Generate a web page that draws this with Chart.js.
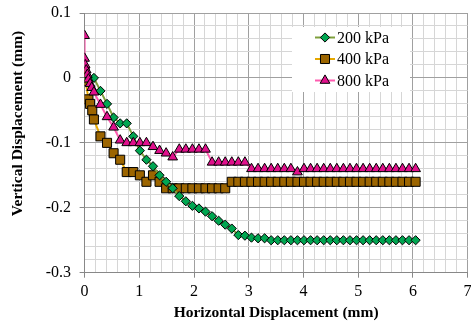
<!DOCTYPE html>
<html>
<head>
<meta charset="utf-8">
<script src="https://cdn.jsdelivr.net/npm/chart.js@4/dist/chart.umd.min.js"></script>
<style>
html,body{margin:0;padding:0;background:#fff;overflow:hidden;}
#wrap{width:471px;height:327px;position:relative;overflow:hidden;}
canvas{display:block;}
</style>
</head>
<body>
<div id="wrap"><canvas id="c" width="471" height="327"></canvas></div>
<script>
// ---- data ----
const seriesNames = ['200 kPa', '400 kPa', '800 kPa'];

const x200 = [0, 0.17, 0.29, 0.41, 0.53, 0.65, 0.77, 0.89, 1.01, 1.13, 1.25, 1.37, 1.49, 1.61, 1.73, 1.85, 1.97, 2.09, 2.21, 2.33, 2.45, 2.57, 2.69, 2.81, 2.93, 3.05, 3.17, 3.29,
  3.41, 3.53, 3.65, 3.77, 3.89, 4.01, 4.13, 4.25, 4.37, 4.49, 4.61, 4.73, 4.85, 4.97, 5.09, 5.21, 5.33, 5.45, 5.57, 5.69, 5.81, 5.93, 6.05];
const y200 = [0, 0, -0.02, -0.04, -0.061, -0.07, -0.07, -0.09, -0.112, -0.126, -0.136, -0.15, -0.16, -0.17, -0.182, -0.19, -0.197, -0.201, -0.206, -0.213, -0.22, -0.226, -0.232, -0.242, -0.243, -0.246, -0.247, -0.247,
  -0.25, -0.25, -0.25, -0.25, -0.25, -0.25, -0.25, -0.25, -0.25, -0.25, -0.25, -0.25, -0.25, -0.25, -0.25, -0.25, -0.25, -0.25, -0.25, -0.25, -0.25, -0.25, -0.25];

const x400 = [0, 0.02, 0.07, 0.1, 0.14, 0.17, 0.29, 0.41, 0.53, 0.65, 0.77, 0.89, 1.01, 1.13, 1.25, 1.37,
  1.49, 1.61, 1.73, 1.85, 1.97, 2.09, 2.21, 2.33, 2.45, 2.57,
  2.69, 2.81, 2.93, 3.05, 3.17, 3.29, 3.41, 3.53, 3.65, 3.77, 3.89, 4.01, 4.13, 4.25, 4.37, 4.49, 4.61, 4.73, 4.85, 4.97, 5.09, 5.21, 5.33, 5.45, 5.57, 5.69, 5.81, 5.93, 6.05];
const y400 = [0.01, -0.005, -0.033, -0.04, -0.05, -0.064, -0.09, -0.1, -0.116, -0.126, -0.145, -0.145, -0.15, -0.16, -0.15, -0.16,
  -0.17, -0.17, -0.17, -0.17, -0.17, -0.17, -0.17, -0.17, -0.17, -0.17,
  -0.16, -0.16, -0.16, -0.16, -0.16, -0.16, -0.16, -0.16, -0.16, -0.16, -0.16, -0.16, -0.16, -0.16, -0.16, -0.16, -0.16, -0.16, -0.16, -0.16, -0.16, -0.16, -0.16, -0.16, -0.16, -0.16, -0.16, -0.16, -0.16];

const x800 = [0, 0, 0.01, 0.03, 0.05, 0.07, 0.1, 0.13, 0.17, 0.29, 0.41, 0.53, 0.65, 0.77, 0.89, 1.01, 1.13, 1.25, 1.37, 1.49, 1.61,
  1.73, 1.85, 1.97, 2.09, 2.21, 2.33, 2.45, 2.57, 2.69, 2.81, 2.93,
  3.05, 3.17, 3.29, 3.41, 3.53, 3.65, 3.77, 3.89,
  4.01, 4.13, 4.25, 4.37, 4.49, 4.61, 4.73, 4.85, 4.97, 5.09, 5.21, 5.33, 5.45, 5.57, 5.69, 5.81, 5.93, 6.05];
const y800 = [0.065, 0.03, 0.02, 0.012, 0.005, -0.002, -0.009, -0.015, -0.022, -0.041, -0.06, -0.076, -0.096, -0.1, -0.1, -0.1, -0.1, -0.106, -0.112, -0.116, -0.122,
  -0.11, -0.11, -0.11, -0.11, -0.11, -0.13, -0.13, -0.13, -0.13, -0.13, -0.13,
  -0.14, -0.14, -0.14, -0.14, -0.14, -0.14, -0.14, -0.145,
  -0.14, -0.14, -0.14, -0.14, -0.14, -0.14, -0.14, -0.14, -0.14, -0.14, -0.14, -0.14, -0.14, -0.14, -0.14, -0.14, -0.14, -0.14];

const xTickLabels = ['0', '1', '2', '3', '4', '5', '6', '7'];
const yTickLabels = ['0.1', '0', '-0.1', '-0.2', '-0.3'];
const xTitle = 'Horizontal Displacement (mm)';
const yTitle = 'Vertical Displacement (mm)';

// ---- build ----
function pts(xs, ys) { return xs.map((x, i) => ({x: x, y: ys[i]})); }
const FONT = "'Liberation Serif', 'Times New Roman', serif";
const styles = [
  {line: '#7FA03C', fill: '#00A651', shape: 'rectRot', r: 4.6},
  {line: '#E6A800', fill: '#9C6500', shape: 'rect', r: 6.4},
  {line: '#FF5CB0', fill: '#E0108C', shape: 'triangle', r: 5.6}
];
const drawOrder = [1, 2, 0];

const isMajorY = v => Math.abs(v * 10 - Math.round(v * 10)) < 1e-6;
const isMajorX = v => Math.abs(v - Math.round(v)) < 1e-6;
const MAJOR = '#a0a0a0', MINOR = '#d6d6d6', AXIS = '#888888';

function marker(ctx, shape, x, y, r, fill) {
  ctx.save();
  ctx.fillStyle = fill; ctx.strokeStyle = '#000'; ctx.lineWidth = 1;
  ctx.beginPath();
  if (shape === 'rectRot') {
    ctx.moveTo(x - r, y); ctx.lineTo(x, y - r); ctx.lineTo(x + r, y); ctx.lineTo(x, y + r);
  } else if (shape === 'rect') {
    const s = r * Math.SQRT1_2; ctx.rect(x - s, y - s, 2 * s, 2 * s);
  } else {
    let a = 0;
    ctx.moveTo(x + Math.sin(a) * r, y - Math.cos(a) * r); a += 2 * Math.PI / 3;
    ctx.lineTo(x + Math.sin(a) * r, y - Math.cos(a) * r); a += 2 * Math.PI / 3;
    ctx.lineTo(x + Math.sin(a) * r, y - Math.cos(a) * r);
  }
  ctx.closePath(); ctx.fill(); ctx.stroke();
  ctx.restore();
}

const legendPlugin = {
  id: 'boxLegend',
  afterDatasetsDraw(chart) {
    const ctx = chart.ctx;
    ctx.save();
    ctx.fillStyle = '#fff';
    ctx.fillRect(292, 27, 118, 65);
    const rows = [37.5, 59, 80.5];
    seriesNames.forEach((n, i) => {
      const y = rows[i];
      ctx.strokeStyle = styles[i].line; ctx.lineWidth = 2;
      ctx.beginPath(); ctx.moveTo(315, y); ctx.lineTo(335, y); ctx.stroke();
      marker(ctx, styles[i].shape, 325, y, styles[i].r, styles[i].fill);
      ctx.fillStyle = '#000';
      ctx.font = "16px " + FONT;
      ctx.textBaseline = 'middle'; ctx.textAlign = 'left';
      ctx.fillText(n, 337, y + 1);
    });
    ctx.restore();
  }
};

function makeConfig() {
  const allData = [pts(x200, y200), pts(x400, y400), pts(x800, y800)];
  const datasets = seriesNames.map((n, i) => ({
    label: n,
    data: allData[i],
    showLine: true,
    borderColor: styles[i].line,
    borderWidth: 2,
    backgroundColor: styles[i].fill,
    pointStyle: styles[i].shape,
    pointRadius: styles[i].r,
    pointHoverRadius: styles[i].r,
    pointBackgroundColor: styles[i].fill,
    pointBorderColor: '#000',
    pointBorderWidth: 1,
    tension: 0,
    order: drawOrder[i]
  }));
  return {
    type: 'scatter',
    data: {datasets: datasets},
    plugins: [legendPlugin],
    options: {
      responsive: false,
      devicePixelRatio: 1,
      animation: false,
      events: [],
      layout: {padding: {top: 13, right: 0, bottom: 0, left: 0}},
      plugins: {legend: {display: false}, tooltip: {enabled: false}},
      scales: {
        x: {
          type: 'linear', min: 0, max: 7,
          afterFit(s) { s.height = 54.3; s.paddingRight = 0; s.paddingLeft = 0; },
          ticks: {
            stepSize: 0.2, autoSkip: false, maxRotation: 0, padding: 4.5, color: '#000',
            font: {family: FONT, size: 16},
            callback: v => isMajorX(v) ? xTickLabels[Math.round(v)] : ''
          },
          grid: {
            color: c => isMajorX(c.tick.value) ? MAJOR : MINOR,
            tickColor: c => isMajorX(c.tick.value) ? AXIS : 'rgba(0,0,0,0)',
            tickLength: 5, lineWidth: 1
          },
          border: {color: AXIS, width: 1},
          title: {display: true, text: xTitle, color: '#000',
            font: {family: FONT, size: 15.5, weight: 'bold'}, padding: {top: 0, bottom: 4.7}}
        },
        y: {
          type: 'linear', min: -0.3, max: 0.1,
          afterFit(s) { s.width = 84.6; s.paddingTop = 0; s.paddingBottom = 0; },
          ticks: {
            stepSize: 0.02, autoSkip: false, padding: 8.6, color: '#000',
            font: {family: FONT, size: 16},
            callback: v => isMajorY(v) ? yTickLabels[Math.round((0.1 - v) * 10)] : ''
          },
          grid: {
            color: c => isMajorY(c.tick.value) ? MAJOR : MINOR,
            tickColor: c => isMajorY(c.tick.value) ? AXIS : 'rgba(0,0,0,0)',
            tickLength: 5, lineWidth: 1
          },
          border: {color: AXIS, width: 1},
          title: {display: true, text: '          ' + yTitle, color: '#000',
            font: {family: FONT, size: 15.5, weight: 'bold'}, padding: {top: 8.7, bottom: 0}}
        }
      }
    }
  };
}

const canvas = document.getElementById('c');
let chart = new Chart(canvas, makeConfig());
const wantRight = 468;
const diff = wantRight - chart.chartArea.right;
if (Math.abs(diff) > 0.3) {
  chart.destroy();
  canvas.width = Math.round(471 + diff);
  canvas.height = 327;
  chart = new Chart(canvas, makeConfig());
}
</script>
</body>
</html>
